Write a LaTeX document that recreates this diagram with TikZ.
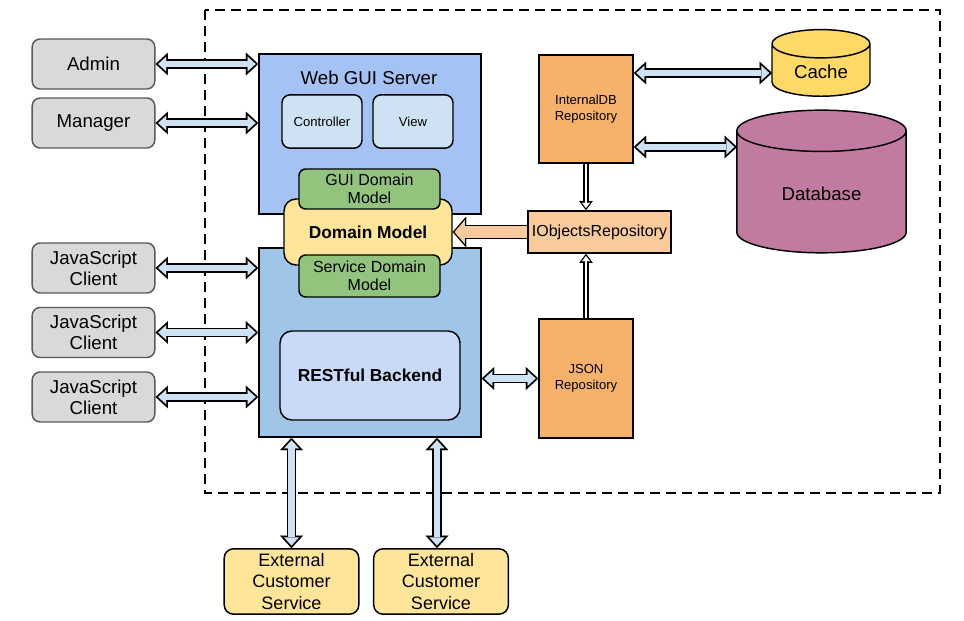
\documentclass[tikz,border=0pt]{standalone}
\usepackage{fontspec}
\setmainfont{Liberation Sans}
\usetikzlibrary{arrows.meta, shapes.geometric}
\definecolor{clientgray}{HTML}{D9D9D9}
\definecolor{guiblue}{HTML}{A4C2F4}
\definecolor{backblue}{HTML}{9FC5E8}
\definecolor{paleblue}{HTML}{CFE2F3}
\definecolor{restblue}{HTML}{C9DAF8}
\definecolor{modelyellow}{HTML}{FFE599}
\definecolor{modelgreen}{HTML}{93C47D}
\definecolor{repoorange}{HTML}{F6B26B}
\definecolor{peach}{HTML}{F9CB9C}
\definecolor{cacheyellow}{HTML}{FFD966}
\definecolor{dbpink}{HTML}{C27BA0}
\tikzset{
big/.style={font=\fontsize{14}{16}\selectfont}, % normal labels
heavy/.style={font=\fontsize{13}{15}\selectfont\bfseries}, % bold labels
mid/.style={font=\fontsize{12}{13.5}\selectfont}, % domain model parts
small/.style={font=\fontsize{9.8}{12}\selectfont}, % labels in the small boxes
box/.style={draw, line width=1.1pt, align=center, inner sep=1pt}, % every box
client/.style={box, big, fill=clientgray, draw=black!65, rounded corners=6pt, minimum width=92pt, minimum height=37.5pt}, % clients on the left
server/.style={box, minimum width=166.5pt}, % the two big server boxes
inner/.style={box, rounded corners=6pt}, % rounded boxes inside the servers
repo/.style={box, small, fill=repoorange, minimum width=70.5pt}, % repositories
store/.style={box, big, cylinder, shape border rotate=90, aspect=0.5}, % cache and database
external/.style={box, font=\fontsize{13.5}{16}\selectfont, fill=modelyellow, rounded corners=7pt, minimum width=101pt, minimum height=49pt}, % outside services
% fat double arrow, blue inside
dblarrow/.style={line width=4.6pt, draw=paleblue, shorten <=2pt, shorten >=2pt,
  arrows={Triangle[length=6pt,width=11pt,line width=0.01pt 0 0]-Triangle[length=6pt,width=11pt,line width=0.01pt 0 0]},
  preaction={draw=black, line width=7.2pt, shorten <=0pt, shorten >=0pt,
  arrows={Triangle[length=9.3pt,width=17pt,line width=0.01pt 0 0]-Triangle[length=9.3pt,width=17pt,line width=0.01pt 0 0]}}},
% thin hollow arrow, white inside
hollowarrow/.style={line width=1.8pt, draw=white, shorten >=1.8pt,
  arrows={-Triangle[length=3.8pt,width=6pt,line width=0.01pt 0 0]},
  preaction={draw=black, line width=4pt, shorten >=0pt,
  arrows={-Triangle[length=6.8pt,width=10pt,line width=0.01pt 0 0]}}},
% wide arrow, peach inside
peacharrow/.style={line width=8.5pt, draw=peach, shorten >=1.4pt,
  arrows={-Triangle[length=7.7pt,width=17.7pt,line width=0.01pt 0 0]},
  preaction={draw=black, line width=10.5pt, shorten >=0pt,
  arrows={-Triangle[length=10pt,width=23pt,line width=0.01pt 0 0]}}},
}

\begin{document}
\begin{tikzpicture}[x=0.75pt, y=-0.75pt]
\useasboundingbox (0,0) rectangle (964,621);

% the system boundary
\draw[line width=1.1pt, dash pattern=on 7.5pt off 4.5pt] (205,10) rectangle (940,493);

% servers
\node[server, fill=guiblue, minimum height=120pt] (webgui) at (370,134) {};
\node[big] (guititle) at (369,78) {Web GUI Server};
\node[inner, small, fill=paleblue, minimum width=60pt, minimum height=40pt] (controller) at (322,121.5) {Controller};
\node[inner, small, fill=paleblue, minimum width=60pt, minimum height=40pt] (view) at (413,121.5) {View};
\node[server, fill=backblue, minimum height=141.75pt] (backend) at (370,342.5) {};
\node[inner, heavy, fill=restblue, rounded corners=9pt, minimum width=135pt, minimum height=66.75pt] (rest) at (370,375.5) {RESTful Backend};

% domain model
\node[inner, heavy, fill=modelyellow, rounded corners=9pt, minimum width=126pt, minimum height=49.5pt] (domain) at (368,232) {Domain Model};
\node[inner, mid, fill=modelgreen, rounded corners=5pt, minimum width=105.75pt, minimum height=30pt] (guimodel) at (369.5,189) {GUI Domain\\Model};
\node[inner, mid, fill=modelgreen, rounded corners=5pt, minimum width=105.75pt, minimum height=31.5pt] (servicemodel) at (369.5,276) {Service Domain\\Model};

% clients
\node[client] (admin) at (93.5,64) {Admin};
\node[client] (manager) at (93.5,123) {Manager};
\node[client] (js1) at (93.5,268) {JavaScript\\Client};
\node[client] (js2) at (93.5,332.5) {JavaScript\\Client};
\node[client] (js3) at (93.5,397) {JavaScript\\Client};

% repositories and storage
\node[repo, minimum height=81pt] (internaldb) at (586,109) {InternalDB\\Repository};
\node[box, mid, fill=peach, minimum width=107pt, minimum height=31.5pt] (iobjects) at (599.5,232) {IObjectsRepository};
\node[repo, minimum height=89pt] (json) at (586,378.5) {JSON\\Repository};
\node[store, fill=cacheyellow, minimum width=73.5pt, minimum height=50pt] (cache) at (821,72) {Cache};
\node[store, fill=dbpink, minimum width=127pt, minimum height=107pt] (database) at (821.5,194) {Database};

% outside services
\node[external] (ext1) at (291.5,581.5) {External\\Customer\\Service};
\node[external] (ext2) at (441,581.5) {External\\Customer\\Service};

\coordinate (cachein) at (772,73);
\coordinate (dbin) at (737,147);

% connectors
\draw[dblarrow] (admin.east) -- (admin.east -| webgui.west);
\draw[dblarrow] (manager.east) -- (manager.east -| webgui.west);
\draw[dblarrow] (js1.east) -- (js1.east -| backend.west);
\draw[dblarrow] (js2.east) -- (js2.east -| backend.west);
\draw[dblarrow] (js3.east) -- (js3.east -| backend.west);
\draw[dblarrow] (cachein -| internaldb.east) -- (cachein);
\draw[dblarrow] (dbin -| internaldb.east) -- (dbin);
\draw[dblarrow] (backend.east |- json.west) -- (json.west);
\draw[dblarrow] (ext1.north |- backend.south) -- (ext1.north);
\draw[dblarrow] ([xshift=-3pt]ext2.north |- backend.south) -- ([xshift=-3pt]ext2.north);
\draw[hollowarrow] (internaldb.south) -- (internaldb.south |- iobjects.north);
\draw[hollowarrow] (json.north) -- (json.north |- iobjects.south);
\draw[peacharrow] (iobjects.west) -- (iobjects.west -| domain.east);
\end{tikzpicture}
\end{document}
